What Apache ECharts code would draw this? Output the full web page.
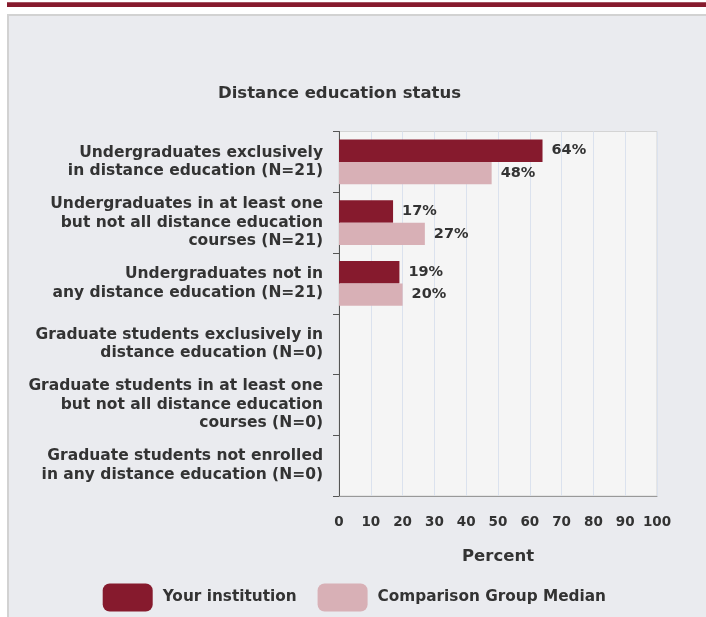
<!DOCTYPE html>
<html>
<head>
<meta charset="utf-8">
<script src="https://cdn.jsdelivr.net/npm/echarts@6/dist/echarts.min.js"></script>
<style>
html,body{margin:0;padding:0;background:#ffffff;}
#chart{width:706px;height:617px;}
</style>
</head>
<body>
<div id="chart"></div>
<script>
const categories = [
  "Undergraduates exclusively\nin distance education (N=21)",
  "Undergraduates in at least one\nbut not all distance education\ncourses (N=21)",
  "Undergraduates not in\nany distance education (N=21)",
  "Graduate students exclusively in\ndistance education (N=0)",
  "Graduate students in at least one\nbut not all distance education\ncourses (N=0)",
  "Graduate students not enrolled\nin any distance education (N=0)"
];
const yourInstitution = [64, 17, 19, null, null, null];
const comparisonMedian = [48, 27, 20, null, null, null];
const seriesNames = ["Your institution", "Comparison Group Median"];
const titleText = "Distance education status";
const axisName = "Percent";

const FONT = "DejaVu Sans";
const chart = echarts.init(document.getElementById('chart'), null, {renderer: 'canvas'});
const labelStyle = {
  show: true, position: 'right', distance: 9,
  formatter: '{c}%', fontFamily: FONT, fontWeight: 'bold', fontSize: 14.5, color: '#333'
};
chart.setOption({
  animation: false,
  backgroundColor: '#ffffff',
  graphic: [
    {type: 'rect', shape: {x: 7, y: 2.3, width: 699, height: 4.7}, style: {fill: '#861a2d'}, z: -10},
    {type: 'rect', shape: {x: 8, y: 15, width: 700, height: 605}, style: {fill: '#eaebef', stroke: '#d2d2d2', lineWidth: 2}, z: -10}
  ],
  title: {
    text: titleText, left: 213, top: 80,
    textStyle: {fontFamily: FONT, fontWeight: 'bold', fontSize: 16.5, color: '#333'}
  },
  grid: {
    left: 339, right: 49, top: 131.5, bottom: 121,
    show: true, backgroundColor: '#f5f5f5', borderColor: '#d4d4d4', borderWidth: 1
  },
  legend: {
    left: 102.7, top: 583.5, padding: 0, itemWidth: 50, itemHeight: 28, itemGap: 21, icon: 'roundRect',
    textStyle: {fontFamily: FONT, fontWeight: 'bold', fontSize: 15.3, color: '#333', padding: [0, 0, 0, 5]},
    data: seriesNames
  },
  xAxis: {
    type: 'value', min: 0, max: 100, interval: 10,
    axisLine: {show: true, lineStyle: {color: '#999'}},
    axisTick: {show: false},
    axisLabel: {margin: 19, fontFamily: FONT, fontWeight: 'bold', fontSize: 13.5, color: '#333'},
    splitLine: {show: true, lineStyle: {color: '#dbe2ee'}},
    name: axisName, nameLocation: 'middle', nameGap: 52,
    nameTextStyle: {fontFamily: FONT, fontWeight: 'bold', fontSize: 16.5, color: '#333'}
  },
  yAxis: {
    type: 'category', inverse: true, data: categories,
    axisLine: {show: true, lineStyle: {color: '#555'}},
    axisTick: {show: true, length: 6, lineStyle: {color: '#555'}},
    axisLabel: {margin: 16, fontFamily: FONT, fontWeight: 'bold', fontSize: 15.5, lineHeight: 18.5, color: '#333', align: 'right'}
  },
  series: [
    {name: seriesNames[0], type: 'bar', data: yourInstitution, barGap: '0%', barCategoryGap: '26%',
     itemStyle: {color: '#861a2d'}, label: labelStyle},
    {name: seriesNames[1], type: 'bar', data: comparisonMedian,
     itemStyle: {color: '#d8b0b6'}, label: labelStyle}
  ]
});
</script>
</body>
</html>
